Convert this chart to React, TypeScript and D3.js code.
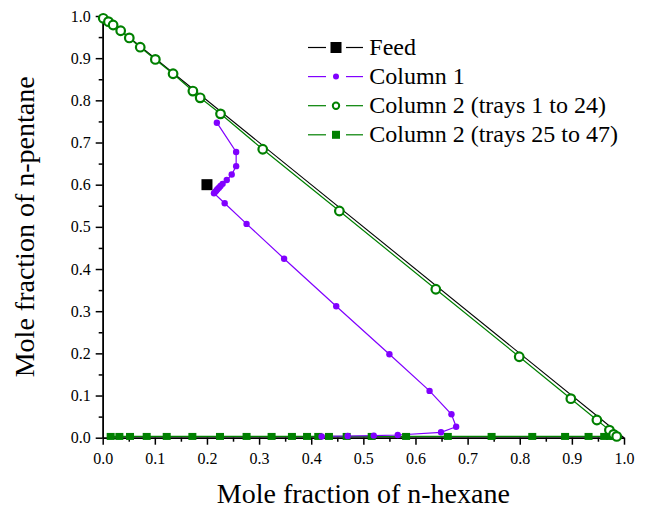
import React, { useEffect, useRef } from 'react';
import * as d3 from 'd3';

// feed composition (x = n-hexane, y = n-pentane)
const feedX = [0.2];
const feedY = [0.6];

// x + y = 1 boundary
const boundaryX = [0, 1];
const boundaryY = [1, 0];

// column 1 tray compositions
const col1X = [0.219, 0.256, 0.256, 0.2475, 0.238, 0.230, 0.226, 0.223, 0.220, 0.218, 0.216, 0.2135,
    0.234, 0.276, 0.348, 0.448, 0.550, 0.627, 0.669, 0.678, 0.649, 0.566, 0.52, 0.47, 0.42];
const col1Y = [0.747, 0.6775, 0.644, 0.624, 0.611, 0.602, 0.597, 0.593, 0.589, 0.586, 0.583, 0.5796,
    0.556, 0.507, 0.4245, 0.3116, 0.198, 0.111, 0.0555, 0.026, 0.0128, 0.0064, 0.005, 0.004, 0.003];

// column 2, trays 1 to 24
const col2aX = [0.001, 0.011, 0.020, 0.0345, 0.051, 0.072, 0.101, 0.135, 0.173, 0.187, 0.226, 0.307,
    0.454, 0.639, 0.799, 0.898, 0.948, 0.972, 0.980, 0.986];
const col2aY = [0.9946, 0.9865, 0.9787, 0.965, 0.948, 0.926, 0.897, 0.863, 0.822, 0.806, 0.768, 0.684,
    0.5376, 0.352, 0.192, 0.0925, 0.042, 0.018, 0.008, 0.003];

// column 2, trays 25 to 47
const col2bX = [0.980, 0.973, 0.962, 0.932, 0.887, 0.824, 0.746, 0.662, 0.582, 0.516, 0.468, 0.434,
    0.4135, 0.392, 0.363, 0.324, 0.276, 0.225, 0.172, 0.1228, 0.0844, 0.0524, 0.032, 0.0153];
const col2bY = [0.003, 0.003, 0.003, 0.003, 0.003, 0.003, 0.003, 0.003, 0.003, 0.003, 0.003, 0.003,
    0.003, 0.003, 0.003, 0.003, 0.003, 0.003, 0.003, 0.003, 0.003, 0.003, 0.003, 0.003];

const majorTicks = [0, 0.1, 0.2, 0.3, 0.4, 0.5, 0.6, 0.7, 0.8, 0.9, 1.0];
const minorTicks = [0.05, 0.15, 0.25, 0.35, 0.45, 0.55, 0.65, 0.75, 0.85, 0.95];

const legendLabels = ['Feed', 'Column 1', 'Column 2 (trays 1 to 24)', 'Column 2 (trays 25 to 47)'];

const PURPLE = '#8000ff';
const GREEN = '#008000';
const FONT = "'Liberation Serif', 'Times New Roman', serif";

function zip(xs: number[], ys: number[]) {
    return xs.map((x, i) => [x, ys[i]] as [number, number]);
}

export default function App() {
    const ref = useRef<SVGSVGElement>(null);

    useEffect(() => {
        const svg = d3.select(ref.current);
        svg.selectAll('*').remove();

        const x = d3.scaleLinear().domain([0, 1]).range([102.7, 624]);
        const y = d3.scaleLinear().domain([0, 1]).range([437.7, 16]);

        const line = d3.line<[number, number]>()
            .x(d => x(d[0]))
            .y(d => y(d[1]));

        // axes first, data drawn over them
        const fmt = d3.format('.1f');
        svg.append('g').attr('transform', `translate(0,${y(0)})`)
            .call(d3.axisBottom(x).tickValues(minorTicks).tickSize(4).tickSizeOuter(0).tickFormat(() => ''));
        svg.append('g').attr('transform', `translate(0,${y(0)})`)
            .call(d3.axisBottom(x).tickValues(majorTicks).tickSize(7).tickSizeOuter(0).tickPadding(8).tickFormat(d => fmt(d as number)));

        svg.append('g').attr('transform', `translate(${x(0)},0)`)
            .call(d3.axisLeft(y).tickValues(minorTicks).tickSize(4).tickSizeOuter(0).tickFormat(() => ''));
        svg.append('g').attr('transform', `translate(${x(0)},0)`)
            .call(d3.axisLeft(y).tickValues(majorTicks).tickSize(7).tickSizeOuter(0).tickPadding(5).tickFormat(d => fmt(d as number)));

        svg.selectAll('.domain, .tick line').attr('stroke', '#000').attr('stroke-width', 1.5);
        svg.selectAll('g').attr('font-family', null).style('font-family', FONT);
        svg.selectAll('.tick text').attr('font-size', 16).attr('fill', '#000');

        // lines
        svg.append('path')
            .attr('d', line(zip(boundaryX, boundaryY)))
            .attr('fill', 'none').attr('stroke', '#000').attr('stroke-width', 1.1);

        svg.append('path')
            .attr('d', line(zip(col2aX, col2aY)))
            .attr('fill', 'none').attr('stroke', GREEN).attr('stroke-width', 1.2);

        svg.append('path')
            .attr('d', line(zip(col2bX, col2bY)))
            .attr('fill', 'none').attr('stroke', GREEN).attr('stroke-width', 1.3);

        svg.append('path')
            .attr('d', line(zip(col1X, col1Y)))
            .attr('fill', 'none').attr('stroke', PURPLE).attr('stroke-width', 1.2);

        // markers
        svg.append('g').selectAll('rect')
            .data(zip(col2bX, col2bY)).enter().append('rect')
            .attr('x', d => x(d[0]) - 4).attr('y', d => y(d[1]) - 3.5)
            .attr('width', 8).attr('height', 7)
            .attr('fill', GREEN);

        svg.append('g').selectAll('circle')
            .data(zip(col2aX, col2aY)).enter().append('circle')
            .attr('cx', d => x(d[0])).attr('cy', d => y(d[1])).attr('r', 4.3)
            .attr('fill', '#fff').attr('stroke', GREEN).attr('stroke-width', 2.2);

        svg.append('g').selectAll('circle')
            .data(zip(col1X, col1Y)).enter().append('circle')
            .attr('cx', d => x(d[0])).attr('cy', d => y(d[1])).attr('r', 3.2)
            .attr('fill', PURPLE);

        svg.append('g').selectAll('rect')
            .data(zip(feedX, feedY)).enter().append('rect')
            .attr('x', d => x(d[0]) - 5.5).attr('y', d => y(d[1]) - 5.5)
            .attr('width', 11).attr('height', 11)
            .attr('fill', '#000');

        // axis titles
        svg.append('text')
            .attr('x', (x(0) + x(1)) / 2).attr('y', 503)
            .attr('text-anchor', 'middle')
            .style('font-family', FONT).attr('font-size', 28)
            .text('Mole fraction of n-hexane');

        svg.append('text')
            .attr('transform', `translate(34,${(y(0) + y(1)) / 2}) rotate(-90)`)
            .attr('text-anchor', 'middle')
            .style('font-family', FONT).attr('font-size', 28)
            .text('Mole fraction of n-pentane');

        // legend
        const colors = ['#000', PURPLE, GREEN, GREEN];
        const legend = svg.append('g');
        legendLabels.forEach((label, i) => {
            const cy = 47.5 + i * 29.1;
            const c = colors[i];
            legend.append('line').attr('x1', 308).attr('x2', 326).attr('y1', cy).attr('y2', cy)
                .attr('stroke', c).attr('stroke-width', 1.2);
            legend.append('line').attr('x1', 346).attr('x2', 363).attr('y1', cy).attr('y2', cy)
                .attr('stroke', c).attr('stroke-width', 1.2);
            if (i === 0) {
                legend.append('rect').attr('x', 330.5).attr('y', cy - 5.5).attr('width', 11).attr('height', 11).attr('fill', c);
            } else if (i === 1) {
                legend.append('circle').attr('cx', 336).attr('cy', cy).attr('r', 3).attr('fill', c);
            } else if (i === 2) {
                legend.append('circle').attr('cx', 336).attr('cy', cy).attr('r', 3.2)
                    .attr('fill', '#fff').attr('stroke', c).attr('stroke-width', 2);
            } else {
                legend.append('rect').attr('x', 332).attr('y', cy - 4).attr('width', 8).attr('height', 8).attr('fill', c);
            }
            legend.append('text')
                .attr('x', 369.3).attr('y', cy + 7)
                .style('font-family', FONT).attr('font-size', 24)
                .text(label);
        });
    });

    return (
        <svg ref={ref} width={650} height={516}
            style={{ position: 'absolute', left: 0, top: 0, background: '#fff' }} />
    );
}
